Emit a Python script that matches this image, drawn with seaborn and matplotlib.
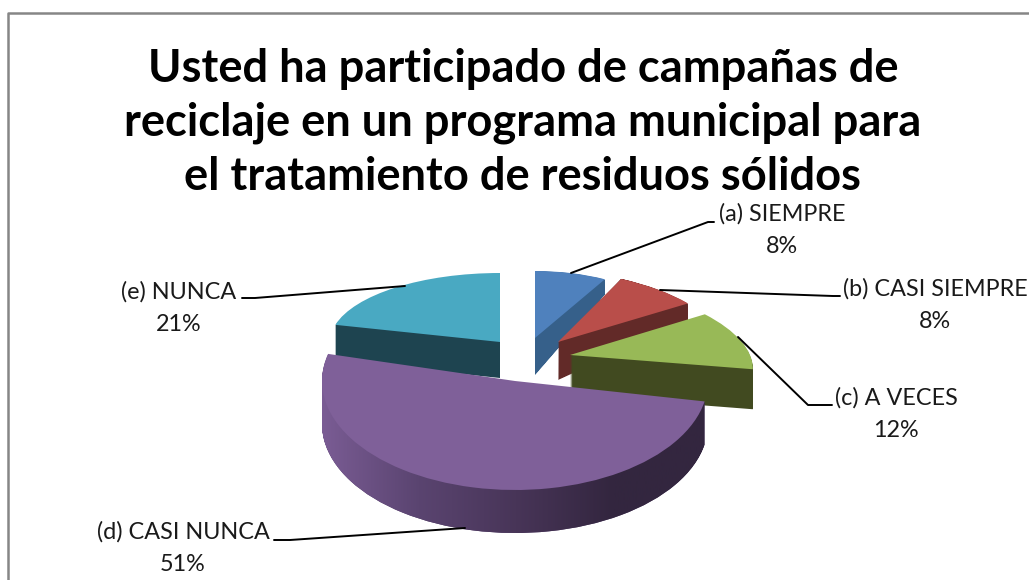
import numpy as np
import matplotlib
matplotlib.use('Agg')
import matplotlib.pyplot as plt
from matplotlib.colors import LinearSegmentedColormap
from matplotlib.patches import PathPatch
from matplotlib.path import Path
from matplotlib.transforms import Affine2D
import seaborn as sns

title = 'Usted ha participado de campañas de\nreciclaje en un programa municipal para\nel tratamiento de residuos sólidos'
categories = ['(a) SIEMPRE', '(b) CASI SIEMPRE', '(c) A VECES', '(d) CASI NUNCA', '(e) NUNCA']
percent = [8, 8, 12, 51, 21]
top_colors = ['#4f81bd', '#b94e4a', '#98b957', '#7f6099', '#49a9c2']
side_colors = ['#36608a', '#622a28', '#414a20', '#4f3a66', '#1e4450']

sns.set_theme(style='white')
plt.rcParams['font.family'] = ['Lato', 'DejaVu Sans']

fig, ax = plt.subplots(figsize=(10.29, 5.8), dpi=100)
ax.set_position([0, 0, 1, 1])

wedges, _ = ax.pie(percent, colors=sns.color_palette(top_colors), startangle=90, counterclock=False)
ax.set_aspect('auto')
ax.set_xlim(0, 1029)
ax.set_ylim(580, 0)

# every slice has its own ellipse, the original has perspective
# cx, cy, rx, ry, skew, depth, growth of ry towards the bottom face
slice_shape = [
    (535, 338, 145, 67, 0, 37, 1.37),
    (558, 342, 166, 72, -19, 38, 1.55),
    (570, 355, 180, 76, -32, 40, 1.0),
    (515, 381, 193, 109, 0, 43, 1.0),
    (500, 342, 170, 69, 0, 36, 1.0),
]
draw_order = [4, 0, 1, 2, 3]

shade = LinearSegmentedColormap.from_list('shade', ['#7a5c94', '#5a4470', '#483558', '#33263f', '#33263f'])


def slice_matrix(i, step=0):
    cx, cy, rx, ry, skew, depth, grow = slice_shape[i]
    k = 1 + (grow - 1) * step / depth
    return Affine2D.from_values(rx, 0, skew, -ry * k, cx, cy + step)


for z, i in enumerate(draw_order):
    depth = slice_shape[i][5]
    wedge = wedges[i]
    base_path = wedge.get_path()
    # side of the slice is the wedge swept down to its bottom face
    layers = [base_path.transformed(slice_matrix(i, step)) for step in range(depth, 0, -1)]
    rim = PathPatch(Path.make_compound_path(*layers), facecolor=side_colors[i], edgecolor='none', zorder=2 + z)
    ax.add_patch(rim)
    if i == 3:
        # shaded rim of the big slice
        im = ax.imshow(np.linspace(0, 1, 256).reshape(1, -1), extent=(322, 710, 580, 0), cmap=shade,
                       aspect='auto', zorder=2 + z)
        im.set_clip_path(rim)
    wedge.set_transform(slice_matrix(i) + ax.transData)
    wedge.set_zorder(2.5 + z)
    wedge.set_edgecolor('none')

ax.set_xlim(0, 1029)
ax.set_ylim(580, 0)

# leader lines
ax.plot([571, 708, 714], [273, 222, 222], color='black', lw=1.4, zorder=10)
ax.plot([660, 833, 840], [290, 296, 296], color='black', lw=1.4, zorder=10)
ax.plot([738, 808, 832], [337, 405, 405], color='black', lw=1.4, zorder=10)
ax.plot([465, 290, 274], [528, 540, 540], color='black', lw=1.4, zorder=10)
ax.plot([405, 255, 242], [286, 298, 298], color='black', lw=1.4, zorder=10)

# labels
label_pos = [(782, 230), (935, 305), (896, 414), (183, 548), (179, 308)]
for cat, val, (x, y) in zip(categories, percent, label_pos):
    ax.text(x, y, f'{cat}\n{val}%', ha='center', va='center', fontsize=16.8, color='#1a1a1a',
            linespacing=1.65, zorder=11)

ax.text(523, 123, title, ha='center', va='center', fontsize=32.6, fontweight='bold', color='black',
        linespacing=1.36, zorder=11)

# chart border, runs off the right and bottom of the picture
ax.plot([1040, 8, 8], [13, 13, 590], color='#868686', lw=1.8, zorder=12)

ax.axis('off')
fig.savefig('out.png', dpi=100, facecolor='white')
